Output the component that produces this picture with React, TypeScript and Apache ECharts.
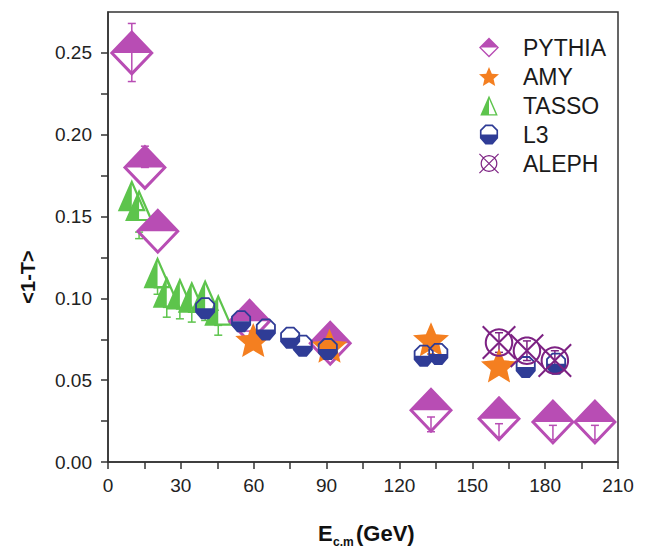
import React, { useEffect, useRef } from "react";
import * as echarts from "echarts";

// ---------------- data ----------------
const PYTHIA_X = [9.8, 15.2, 20.5, 58.3, 91.5, 133.0, 161.0, 183.2, 200.5];
const PYTHIA_Y = [0.25, 0.18, 0.141, 0.086, 0.0725, 0.0316, 0.0265, 0.0244, 0.0244];
const PYTHIA_ERR_TOP = [0.268, 0.193, null, 0.080, null, 0.0275, 0.0234, 0.0224, 0.0224];
const PYTHIA_ERR_BOT = [0.2325, 0.18, null, 0.0735, null, 0.0185, 0.0152, 0.0137, 0.0137];

const AMY_X = [59.8, 91.2, 133.0, 161.0];
const AMY_Y = [0.0745, 0.071, 0.075, 0.059];
const AMY_ERR_TOP = [0.080, 0.068, 0.066, null];
const AMY_ERR_BOT = [0.0745, 0.064, 0.062, null];

const TASSO_X = [9.8, 12.8, 20.4, 24.2, 29.6, 34.5, 40.0, 45.4];
const TASSO_Y = [0.163, 0.157, 0.116, 0.104, 0.103, 0.101, 0.102, 0.093];
const TASSO_ERR_TOP = [null, 0.1405, 0.1065, 0.0945, 0.0935, 0.0915, 0.0925, 0.0835];
const TASSO_ERR_BOT = [null, 0.1365, 0.1025, 0.0885, 0.0875, 0.0855, 0.0865, 0.0775];

const L3_X = [40.0, 54.8, 65.0, 75.0, 80.2, 90.5, 130.0, 136.0, 172.0, 184.5];
const L3_Y = [0.094, 0.086, 0.081, 0.076, 0.071, 0.069, 0.065, 0.066, 0.058, 0.06];

const ALEPH_X = [161.0, 172.5, 184.0];
const ALEPH_Y = [0.073, 0.068, 0.062];
const ALEPH_ERR_TOP = [0.079, 0.074, 0.068];
const ALEPH_ERR_BOT = [0.067, 0.062, 0.056];

const X_LABELS = [0, 30, 60, 90, 120, 150, 180, 210];
const X_TICKS = [0, 15, 30, 45, 60, 75, 90, 105, 120, 135, 150, 165, 180, 195, 210];
const Y_LABELS = [0, 0.05, 0.1, 0.15, 0.2, 0.25];
const Y_TICKS = [0, 0.025, 0.05, 0.075, 0.1, 0.125, 0.15, 0.175, 0.2, 0.225, 0.25];

const LEGEND_NAMES = ["PYTHIA", "AMY", "TASSO", "L3", "ALEPH"];

// ---------------- styles ----------------
const FONT = '"Liberation Sans", Arial, Helvetica, sans-serif';
const C_PYTHIA = "#B84DB4";
const C_AMY = "#F47F20";
const C_TASSO = "#5DC44C";
const C_L3 = "#2F3C96";
const C_ALEPH = "#7D2283";

// half-filled diamond: top filled, bottom hollow
const DIAMOND_HALF = "path://M0 20 L20 0 L40 20 L20 40 Z M3.8 20 L20 36.2 L36.2 20 Z";
// half-filled triangle: left filled, right hollow
const TRI_HALF = "path://M14 0 L28 32 L0 32 Z M14 5.5 L14 29.8 L24.6 29.8 Z";
// octagon: top hollow, bottom filled
const OCT_HALF =
  "path://M6 0 L14 0 L20 6 L20 15 L14 22 L6 22 L0 15 L0 6 Z M6.75 1.8 L1.8 6.75 L1.8 11 L18.2 11 L18.2 6.75 L13.25 1.8 Z";

function starPath(R: number, r: number) {
  const pts: string[] = [];
  for (let i = 0; i < 10; i++) {
    const a = -Math.PI / 2 + (i * Math.PI) / 5;
    const rad = i % 2 === 0 ? R : r;
    pts.push(`${(R + rad * Math.cos(a)).toFixed(3)} ${(R + rad * Math.sin(a)).toFixed(3)}`);
  }
  return "path://M" + pts.join(" L") + " Z";
}
const STAR = starPath(18, 8.2);

function circleRingX() {
  const cx = 17, cy = 17, R = 14, r = 12, n = 48;
  const outer: string[] = [];
  const inner: string[] = [];
  for (let i = 0; i < n; i++) {
    const a = (i * 2 * Math.PI) / n;
    outer.push(`${(cx + R * Math.cos(a)).toFixed(3)} ${(cy + R * Math.sin(a)).toFixed(3)}`);
    const b = -a;
    inner.push(`${(cx + r * Math.cos(b)).toFixed(3)} ${(cy + r * Math.sin(b)).toFixed(3)}`);
  }
  const bar1 = "M1.707 0.293 L33.707 32.293 L32.293 33.707 L0.293 1.707 Z";
  const bar2 = "M32.293 0.293 L33.707 1.707 L1.707 33.707 L0.293 32.293 Z";
  return "path://M" + outer.join(" L") + " Z M" + inner.join(" L") + " Z " + bar1 + " " + bar2;
}
const ALEPH_SYM = circleRingX();

const zip = (xs: number[], ys: number[]) => xs.map((x, i) => [x, ys[i]]);
const errData = (xs: number[], top: (number | null)[], bot: (number | null)[]) =>
  xs
    .map((x, i) => [x, top[i], bot[i]])
    .filter((d) => d[1] !== null && d[2] !== null);

function errSeries(name: string, data: any[], color: string) {
  return {
    name,
    type: "custom",
    coordinateSystem: "cartesian2d",
    encode: { x: 0, y: [1, 2] },
    data,
    silent: true,
    renderItem: (params: any, api: any) => {
      const x = api.value(0);
      const p1 = api.coord([x, api.value(1)]);
      const p2 = api.coord([x, api.value(2)]);
      const hw = 4;
      const st = { stroke: color, lineWidth: 1.5, fill: "none" };
      return {
        type: "group",
        children: [
          { type: "line", shape: { x1: p1[0], y1: p1[1], x2: p2[0], y2: p2[1] }, style: st },
          { type: "line", shape: { x1: p1[0] - hw, y1: p1[1], x2: p1[0] + hw, y2: p1[1] }, style: st },
          { type: "line", shape: { x1: p2[0] - hw, y1: p2[1], x2: p2[0] + hw, y2: p2[1] }, style: st },
        ],
      };
    },
  };
}

function scatter(name: string, data: number[][], symbol: string, size: number[], color: string) {
  return {
    name,
    type: "scatter",
    data,
    symbol,
    symbolSize: size,
    itemStyle: { color, opacity: 1 },
    emphasis: { disabled: true },
  };
}

export default function App() {
  const ref = useRef<HTMLDivElement>(null);
  useEffect(() => {
    if (!ref.current) return;
    const chart = echarts.init(ref.current, undefined, { renderer: "svg" });
    const axisColor = "#333";
    const option: any = {
      animation: false,
      backgroundColor: "#ffffff",
      grid: {
        left: 108,
        right: 32,
        top: 12,
        bottom: 88,
        show: true,
        borderColor: axisColor,
        borderWidth: 1.5,
        backgroundColor: "transparent",
      },
      xAxis: {
        type: "value",
        min: 0,
        max: 210,
        interval: 30,
        axisLine: { show: true, onZero: false, lineStyle: { color: axisColor, width: 1.5 } },
        axisTick: { show: true, inside: false, length: 7, customValues: X_TICKS, lineStyle: { color: axisColor, width: 1.5 } },
        axisLabel: { customValues: X_LABELS, margin: 14, fontSize: 19, color: "#222", fontFamily: FONT },
        splitLine: { show: false },
      },
      yAxis: {
        type: "value",
        min: 0,
        max: 0.275,
        interval: 0.05,
        axisLine: { show: true, onZero: false, lineStyle: { color: axisColor, width: 1.5 } },
        axisTick: { show: true, inside: false, length: 7, customValues: Y_TICKS, lineStyle: { color: axisColor, width: 1.5 } },
        axisLabel: {
          customValues: Y_LABELS,
          margin: 16,
          fontSize: 19,
          color: "#222",
          fontFamily: FONT,
          formatter: (v: number) => v.toFixed(2),
        },
        splitLine: { show: false },
      },
      legend: {
        show: true,
        orient: "vertical",
        left: 474,
        top: 31,
        itemWidth: 20,
        itemHeight: 20,
        itemGap: 6,
        selectedMode: false,
        textStyle: { fontSize: 23, color: "#1a1a1a", fontFamily: FONT, padding: [0, 0, 0, 19], lineHeight: 20 },
        data: [
          { name: LEGEND_NAMES[0], icon: DIAMOND_HALF, itemStyle: { color: C_PYTHIA } },
          { name: LEGEND_NAMES[1], icon: STAR, itemStyle: { color: C_AMY } },
          { name: LEGEND_NAMES[2], icon: TRI_HALF, itemStyle: { color: C_TASSO } },
          { name: LEGEND_NAMES[3], icon: OCT_HALF, itemStyle: { color: C_L3 } },
          { name: LEGEND_NAMES[4], icon: ALEPH_SYM, itemStyle: { color: C_ALEPH } },
        ],
      },
      graphic: [
        { type: "text", x: 318, y: 533, style: { text: "E", font: `bold 22px ${FONT}`, fill: "#111", align: "left", verticalAlign: "middle" } },
        { type: "text", x: 333, y: 542, style: { text: "c.m", font: `bold 12px ${FONT}`, fill: "#111", align: "left", verticalAlign: "middle" } },
        { type: "text", x: 356, y: 533, style: { text: "(GeV)", font: `bold 22px ${FONT}`, fill: "#111", align: "left", verticalAlign: "middle" } },
        { type: "text", x: 28, y: 277, rotation: Math.PI / 2, style: { text: "<1-T>", font: `bold 20px ${FONT}`, fill: "#111", align: "center", verticalAlign: "middle" } },
      ],
      series: [
        scatter("TASSO", zip(TASSO_X, TASSO_Y), TRI_HALF, [28, 32], C_TASSO),
        errSeries("TASSO err", errData(TASSO_X, TASSO_ERR_TOP, TASSO_ERR_BOT), C_TASSO),
        scatter("PYTHIA", zip(PYTHIA_X, PYTHIA_Y), DIAMOND_HALF, [44, 46], C_PYTHIA),
        errSeries("PYTHIA err", errData(PYTHIA_X, PYTHIA_ERR_TOP, PYTHIA_ERR_BOT), C_PYTHIA),
        scatter("AMY", zip(AMY_X, AMY_Y), STAR, [36, 34], C_AMY),
        errSeries("AMY err", errData(AMY_X, AMY_ERR_TOP, AMY_ERR_BOT), C_AMY),
        scatter("L3", zip(L3_X, L3_Y), OCT_HALF, [20, 22], C_L3),
        scatter("ALEPH", zip(ALEPH_X, ALEPH_Y), ALEPH_SYM, [34, 34], C_ALEPH),
        errSeries("ALEPH err", errData(ALEPH_X, ALEPH_ERR_TOP, ALEPH_ERR_BOT), C_ALEPH),
      ],
    };
    chart.setOption(option);
    return () => chart.dispose();
  }, []);
  return <div ref={ref} style={{ position: "absolute", left: 0, top: 0, width: 650, height: 550 }} />;
}
